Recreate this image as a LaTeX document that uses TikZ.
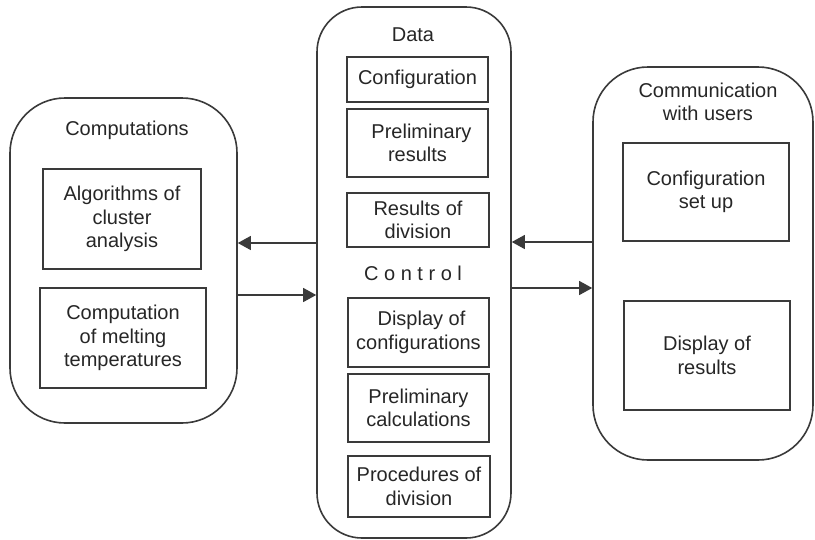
\documentclass[tikz,border=0pt]{standalone}
\usepackage{fontspec}
\setmainfont{Liberation Sans}
\usepackage{xcolor}
\usetikzlibrary{arrows.meta}

\definecolor{ink}{HTML}{3A3A3A}

\begin{document}
\begin{tikzpicture}[x=1pt, y=-1pt,
        font=\fontsize{20}{23.5}\selectfont, text=black!85,
        group/.style={draw=ink, line width=1.6pt, rectangle, inner sep=0pt},
        item/.style={draw=ink, line width=1.2pt, rectangle, inner sep=0pt, align=center},
        title/.style={inner sep=0pt, align=center},
        arr/.style={draw=ink, line width=1.2pt, -{Triangle[length=13pt, width=14pt]}}]
        \useasboundingbox (0, 0) rectangle (815, 539);

        % the three groups
        \node[group, rounded corners=55pt, minimum width=227pt, minimum height=325pt] (comp) at (123.5, 260.5) {};
        \node[group, rounded corners=45pt, minimum width=194pt, minimum height=531pt] (data) at (414, 272.5) {};
        \node[group, rounded corners=55pt, minimum width=220pt, minimum height=393pt] (users) at (703, 263.5) {};

        % computations
        \node[title] (comptitle) at (127, 130) {Computations};
        \node[item, minimum width=158pt, minimum height=100pt] (alg) at (122, 219) {Algorithms of\\cluster\\analysis};
        \node[item, minimum width=166pt, minimum height=100pt] (melt) at (123, 338) {Computation\\of melting\\temperatures};

        % data and control
        \node[title] (datatitle) at (413, 35) {Data};
        \node[item, minimum width=141pt, minimum height=45pt] (conf) at (417.5, 79.5) {Configuration};
        \node[item, minimum width=141pt, minimum height=68pt] (prel) at (417.5, 143) {\hspace*{8pt}Preliminary\\results};
        \node[item, minimum width=142pt, minimum height=54pt] (resdiv) at (418, 220) {Results of\\division};
        \node[title] (ctrltitle) at (413, 273) {C o n t r o l};
        \node[item, minimum width=141pt, minimum height=69pt] (dispconf) at (418.5, 332.5) {\hspace*{6pt}Display of\\configurations};
        \node[item, minimum width=141pt, minimum height=68pt] (prelcalc) at (418.5, 408) {Preliminary\\calculations};
        \node[item, minimum width=142pt, minimum height=61pt] (proc) at (419, 486.5) {Procedures of\\division};

        % communication with users
        \node[title] (usertitle) at (708, 102) {Communication\\with users};
        \node[item, minimum width=166pt, minimum height=98pt] (setup) at (706, 192) {Configuration\\set up};
        \node[item, minimum width=166pt, minimum height=109pt] (dispres) at (707, 355.5) {Display of\\results};

        % connectors
        \coordinate (l1) at (0, 243);
        \coordinate (l2) at (0, 295);
        \coordinate (r1) at (0, 242);
        \coordinate (r2) at (0, 288);
        \draw[arr] (data.west |- l1) -- (comp.east |- l1);
        \draw[arr] (comp.east |- l2) -- (data.west |- l2);
        \draw[arr] (users.west |- r1) -- (data.east |- r1);
        \draw[arr] (data.east |- r2) -- (users.west |- r2);
    \end{tikzpicture}
\end{document}
